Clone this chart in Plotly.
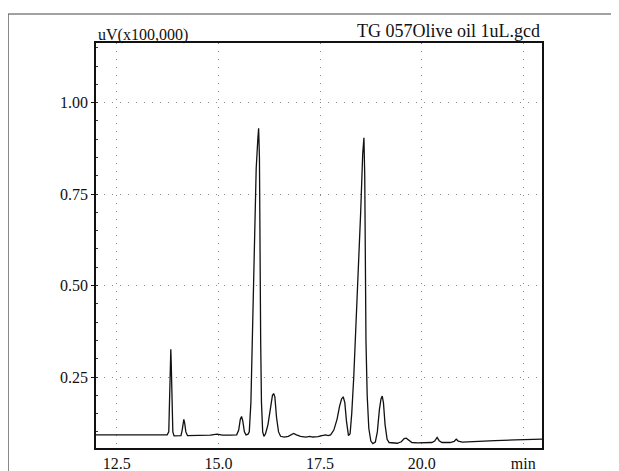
import plotly.graph_objects as go

# Retention time (min) and signal (uV x100,000)
time_min = [
    11.99, 12.50, 13.00, 13.50, 13.74, 13.78, 13.80, 13.82, 13.83, 13.84, 13.86, 13.88, 13.91, 13.98,
    14.08, 14.11, 14.14, 14.15, 14.17, 14.20, 14.24, 14.35, 14.60, 14.80, 14.97, 15.10, 15.30, 15.45,
    15.50, 15.54, 15.57, 15.60, 15.64, 15.68, 15.73, 15.76, 15.80, 15.84, 15.88, 15.93, 15.97, 15.99,
    16.01, 16.02, 16.04, 16.06, 16.09, 16.12, 16.16, 16.22, 16.28, 16.33, 16.36, 16.39, 16.43, 16.48,
    16.53, 16.62, 16.72, 16.80, 16.85, 16.92, 17.02, 17.15, 17.25, 17.32, 17.45, 17.55, 17.64, 17.70,
    17.76, 17.84, 17.92, 17.98, 18.03, 18.07, 18.11, 18.15, 18.20, 18.24, 18.28, 18.33, 18.38, 18.44,
    18.50, 18.55, 18.58, 18.60, 18.615, 18.63, 18.66, 18.70, 18.75, 18.80, 18.86, 18.91, 18.96, 19.00,
    19.03, 19.06, 19.10, 19.15, 19.20, 19.30, 19.40, 19.50, 19.57, 19.62, 19.68, 19.76, 19.90, 20.10,
    20.25, 20.32, 20.38, 20.43, 20.50, 20.70, 20.80, 20.85, 20.90, 21.00, 21.30, 21.80, 22.30, 22.96,
]
signal = [
    0.092, 0.093, 0.092, 0.092, 0.092, 0.100, 0.180, 0.300, 0.326, 0.290, 0.160, 0.100, 0.089, 0.089,
    0.090, 0.105, 0.130, 0.134, 0.125, 0.100, 0.090, 0.090, 0.092, 0.091, 0.094, 0.091, 0.091, 0.092,
    0.105, 0.135, 0.142, 0.130, 0.100, 0.092, 0.094, 0.100, 0.180, 0.380, 0.600, 0.820, 0.900, 0.930,
    0.850, 0.600, 0.350, 0.180, 0.100, 0.088, 0.095, 0.120, 0.170, 0.200, 0.205, 0.195, 0.140, 0.100,
    0.088, 0.086, 0.088, 0.094, 0.096, 0.092, 0.088, 0.086, 0.088, 0.086, 0.087, 0.090, 0.092, 0.090,
    0.092, 0.105, 0.135, 0.170, 0.190, 0.196, 0.180, 0.130, 0.090, 0.095, 0.150, 0.250, 0.380, 0.500,
    0.700, 0.860, 0.904, 0.800, 0.550, 0.350, 0.200, 0.110, 0.075, 0.068, 0.072, 0.100, 0.160, 0.190,
    0.198, 0.180, 0.120, 0.080, 0.071, 0.069, 0.069, 0.073, 0.082, 0.083, 0.077, 0.071, 0.070, 0.070,
    0.071, 0.075, 0.085, 0.076, 0.071, 0.071, 0.074, 0.080, 0.075, 0.072, 0.074, 0.076, 0.078, 0.080,
]

x_tick_vals = [12.5, 15.0, 17.5, 20.0, 22.5]
x_tick_text = ["12.5", "15.0", "17.5", "20.0", "min"]
y_tick_vals = [0.25, 0.50, 0.75, 1.00]
y_tick_text = ["0.25", "0.50", "0.75", "1.00"]

title_text = "TG 057Olive oil 1uL.gcd"
y_unit_text = "uV(x100,000)"

serif = "Liberation Serif"

fig = go.Figure()
fig.add_trace(go.Scatter(
    x=time_min, y=signal, mode="lines",
    line=dict(color="#111111", width=1.3),
    hoverinfo="skip", showlegend=False,
))

# the page body has an 8px margin, so the figure is sized/placed to compensate
fig.update_layout(
    width=611, height=463,
    margin=dict(l=88, r=77, t=35, b=23, autoexpand=False),
    paper_bgcolor="white", plot_bgcolor="white",
    font=dict(family=serif, size=16, color="#111111"),
    xaxis=dict(
        range=[11.99, 22.96], tickvals=x_tick_vals, ticktext=x_tick_text,
        showgrid=True, gridcolor="#8a8a8a", griddash="1px,7px", gridwidth=1,
        showline=True, linecolor="#111111", linewidth=1.5, mirror=True,
        ticks="", zeroline=False, automargin=False,
        tickfont=dict(family=serif, size=16),
    ),
    yaxis=dict(
        range=[0.056, 1.163], tickvals=y_tick_vals, ticktext=y_tick_text,
        showgrid=True, gridcolor="#8a8a8a", griddash="1px,7px", gridwidth=1,
        showline=True, linecolor="#111111", linewidth=1.5, mirror=True,
        ticks="outside", ticklen=3, tickcolor="#111111", zeroline=False,
        automargin=False, tickfont=dict(family=serif, size=16),
        minor=dict(dtick=0.05, ticks="inside", ticklen=2, tickcolor="#333333", showgrid=False),
    ),
    annotations=[
        dict(text=title_text, xref="paper", yref="paper", x=1.0, y=1.0,
             xanchor="right", yanchor="bottom", yshift=0, showarrow=False,
             font=dict(family=serif, size=18, color="#111111")),
        dict(text=y_unit_text, xref="paper", yref="paper", x=0.0, y=1.0,
             xanchor="left", yanchor="bottom", yshift=-3, showarrow=False,
             font=dict(family=serif, size=16, color="#111111")),
    ],
    shapes=[
        dict(type="line", xref="paper", yref="paper", x0=-0.197, x1=-0.197, y0=1.0716, y1=-0.06,
             line=dict(color="#444444", width=1)),
        dict(type="line", xref="paper", yref="paper", x0=-0.197, x1=1.16, y0=1.0716, y1=1.0716,
             line=dict(color="#444444", width=1)),
        dict(type="line", xref="paper", yref="paper", x0=1.16, x1=1.16, y0=1.0716, y1=-0.06,
             line=dict(color="#dddddd", width=1)),
    ],
)

fig.write_html("out.html")
